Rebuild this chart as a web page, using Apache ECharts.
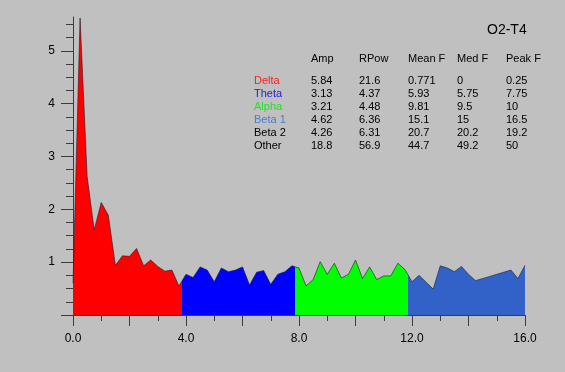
<!DOCTYPE html>
<html>
<head>
<meta charset="utf-8">
<script src="https://cdn.jsdelivr.net/npm/echarts@6/dist/echarts.min.js"></script>
<style>
html,body{margin:0;padding:0;background:#c0c0c0;}
#c{width:565px;height:372px;}
</style>
</head>
<body>
<div id="c"></div>
<script>
// ---- data ----
var freqs = [0,0.25,0.5,0.75,1,1.25,1.5,1.75,2,2.25,2.5,2.75,3,3.25,3.5,3.75,
  4,4.25,4.5,4.75,5,5.25,5.5,5.75,6,6.25,6.5,6.75,7,7.25,7.5,7.75,
  8,8.25,8.5,8.75,9,9.25,9.5,9.75,10,10.25,10.5,10.75,11,11.25,11.5,11.75,
  12,12.25,12.5,12.75,13,13.25,13.5,13.75,14,14.25,14.5,14.75,15,15.25,15.5,15.75,16];
var amps = [0.60,5.62,2.62,1.61,2.13,1.89,0.94,1.12,1.11,1.26,0.93,1.04,0.92,0.83,0.85,0.55,
  0.77,0.71,0.91,0.85,0.63,0.89,0.82,0.85,0.91,0.57,0.81,0.84,0.58,0.77,0.82,0.93,
  0.89,0.55,0.67,1.01,0.77,0.98,0.70,0.77,1.04,0.69,0.91,0.67,0.74,0.74,0.98,0.86,
  0.63,0.75,0.62,0.49,0.93,0.89,0.82,0.92,0.77,0.65,0.69,0.73,0.77,0.81,0.85,0.69,0.94];
var bandEdges = [3.875, 7.875, 11.875];
var bandColors = ['#ff0000', '#0000ff', '#00ff00', '#3262c8'];
var xTickLabels = [0, 4, 8, 12, 16];
var yTickLabels = [1, 2, 3, 4, 5];
var chartTitle = 'O2-T4';

var tableHeaders = ['Amp', 'RPow', 'Mean F', 'Med F', 'Peak F'];
var bandNames = ['Delta', 'Theta', 'Alpha', 'Beta 1', 'Beta 2', 'Other'];
var bandTextColors = ['#ff1a1a', '#1a1ae6', '#22e022', '#4a7bd8', '#000000', '#000000'];
var colAmp = ['5.84', '3.13', '3.21', '4.62', '4.26', '18.8'];
var colRPow = ['21.6', '4.37', '4.48', '6.36', '6.31', '56.9'];
var colMeanF = ['0.771', '5.93', '9.81', '15.1', '20.7', '44.7'];
var colMedF = ['0', '5.75', '9.5', '15', '20.2', '49.2'];
var colPeakF = ['0.25', '7.75', '10', '16.5', '19.2', '50'];

// ---- build ----
var seriesData = freqs.map(function (f, i) { return [f, amps[i]]; });
var minorY = [];
for (var k = 1; k <= 22; k++) { if (k % 4 !== 0) minorY.push(k * 0.25); }

var font = 'Arial, "Liberation Sans", sans-serif';
var axisColor = '#3c3c3c';

var graphics = [];
var colX = [311, 359, 408, 457, 506];
var labelX = 254;
var headerY = 59;
var rowY0 = 81, rowStep = 13;
var cols = [colAmp, colRPow, colMeanF, colMedF, colPeakF];
tableHeaders.forEach(function (h, j) {
  graphics.push({type: 'text', x: colX[j], y: headerY,
    style: {text: h, font: '11px ' + font, fill: '#000', textVerticalAlign: 'middle', verticalAlign: 'middle'}});
});
bandNames.forEach(function (n, i) {
  var y = rowY0 + i * rowStep;
  graphics.push({type: 'text', x: labelX, y: y,
    style: {text: n, font: '11px ' + font, fill: bandTextColors[i], verticalAlign: 'middle'}});
  cols.forEach(function (col, j) {
    graphics.push({type: 'text', x: colX[j], y: y,
      style: {text: col[i], font: '11px ' + font, fill: '#000', verticalAlign: 'middle'}});
  });
});

var chart = echarts.init(document.getElementById('c'), null, {renderer: 'canvas'});
chart.setOption({
  animation: false,
  backgroundColor: '#c0c0c0',
  title: {text: chartTitle, left: 482, top: 18,
    textStyle: {fontSize: 14, fontWeight: 'normal', color: '#000', fontFamily: font}},
  grid: {left: 73, right: 40, top: 17, bottom: 57, containLabel: false},
  xAxis: {
    type: 'value', min: 0, max: 16, interval: 2,
    axisLine: {show: true, lineStyle: {color: axisColor, width: 1}},
    axisTick: {show: true, length: 11, lineStyle: {color: axisColor}},
    minorTick: {show: true, splitNumber: 2, length: 6, lineStyle: {color: axisColor}},
    splitLine: {show: false},
    axisLabel: {customValues: xTickLabels, margin: 18, color: '#000', fontSize: 12, fontFamily: font,
      formatter: function (v) { return v.toFixed(1); }}
  },
  yAxis: [{
    type: 'value', min: 0, max: 5.64,
    axisLine: {show: true, onZero: false, lineStyle: {color: axisColor, width: 1}},
    axisTick: {show: true, customValues: [0, 1, 2, 3, 4, 5], length: 12, lineStyle: {color: axisColor}},
    splitLine: {show: false},
    axisLabel: {customValues: yTickLabels, margin: 18, color: '#000', fontSize: 12, fontFamily: font}
  }, {
    type: 'value', min: 0, max: 5.64, position: 'left',
    axisLine: {show: false},
    axisTick: {show: true, customValues: minorY, length: 7, lineStyle: {color: axisColor}},
    splitLine: {show: false},
    axisLabel: {show: false}
  }],
  visualMap: {
    type: 'piecewise', show: false, dimension: 0, seriesIndex: 0,
    pieces: [
      {lt: bandEdges[0], color: bandColors[0]},
      {gte: bandEdges[0], lt: bandEdges[1], color: bandColors[1]},
      {gte: bandEdges[1], lt: bandEdges[2], color: bandColors[2]},
      {gte: bandEdges[2], color: bandColors[3]}
    ]
  },
  series: [{
    type: 'line', data: seriesData, symbol: 'none', silent: true,
    lineStyle: {width: 0},
    areaStyle: {opacity: 1},
    z: 1
  }, {
    type: 'line', data: seriesData, symbol: 'none', silent: true,
    lineStyle: {width: 1, color: '#1a1a2a', opacity: 0.6},
    z: 2
  }],
  graphic: graphics
});
</script>
</body>
</html>
